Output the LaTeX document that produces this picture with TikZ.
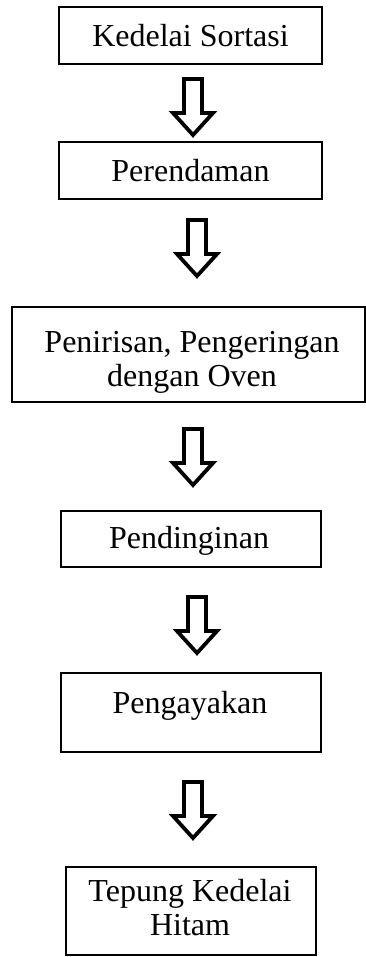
\documentclass[tikz,border=0pt]{standalone}
\usepackage{fontspec}
\setmainfont{Liberation Serif}
% hollow block arrow hanging from a named top coordinate
\newcommand\flowarrow[1]{%
  \draw[hollowarrow] (#1) ++(-9,0) -- ++(18,0) -- ++(0,34) -- ++(11,0)
    -- ++(-20,22) -- ++(-20,-22) -- ++(11,0) -- cycle;}
\begin{document}
\begin{tikzpicture}[x=1pt,y=-1pt,
  stepbox/.style={draw=black, line width=1.2pt, rectangle, inner sep=0pt},
  steptext/.style={font=\fontsize{32}{34}\selectfont, inner sep=0pt, align=center},
  hollowarrow/.style={draw=black, line width=3.8pt, line join=miter, fill=white}]
\useasboundingbox (0,0) rectangle (366,957);

% process boxes
\node[stepbox, minimum width=263pt, minimum height=57pt] (b1) at (190.5,35.5) {};
\node[stepbox, minimum width=263pt, minimum height=57pt] (b2) at (190.5,170.5) {};
\node[stepbox, minimum width=353pt, minimum height=95pt] (b3) at (188.5,354.5) {};
\node[stepbox, minimum width=260pt, minimum height=56pt] (b4) at (191,539) {};
\node[stepbox, minimum width=260pt, minimum height=79pt] (b5) at (191,712.5) {};
\node[stepbox, minimum width=250pt, minimum height=88pt] (b6) at (191,911) {};

% box labels
\node[steptext, anchor=base] (t1) at (190.5,47) {Kedelai Sortasi};
\node[steptext, anchor=base] (t2) at (190.5,182) {Perendaman};
\node[steptext] (t3) at (192,362) {Penirisan, Pengeringan\\dengan Oven};
\node[steptext, anchor=base] (t4) at (189,548) {Pendinginan};
\node[steptext, anchor=base] (t5) at (190,713) {Pengayakan};
\node[steptext] (t6) at (190,908) {Tepung Kedelai\\Hitam};

% arrows between the steps
\coordinate (a1) at (193,79);
\coordinate (a2) at (197,220);
\coordinate (a3) at (193,429);
\coordinate (a4) at (197,597);
\coordinate (a5) at (193,782);
\flowarrow{a1}
\flowarrow{a2}
\flowarrow{a3}
\flowarrow{a4}
\flowarrow{a5}
\end{tikzpicture}
\end{document}
